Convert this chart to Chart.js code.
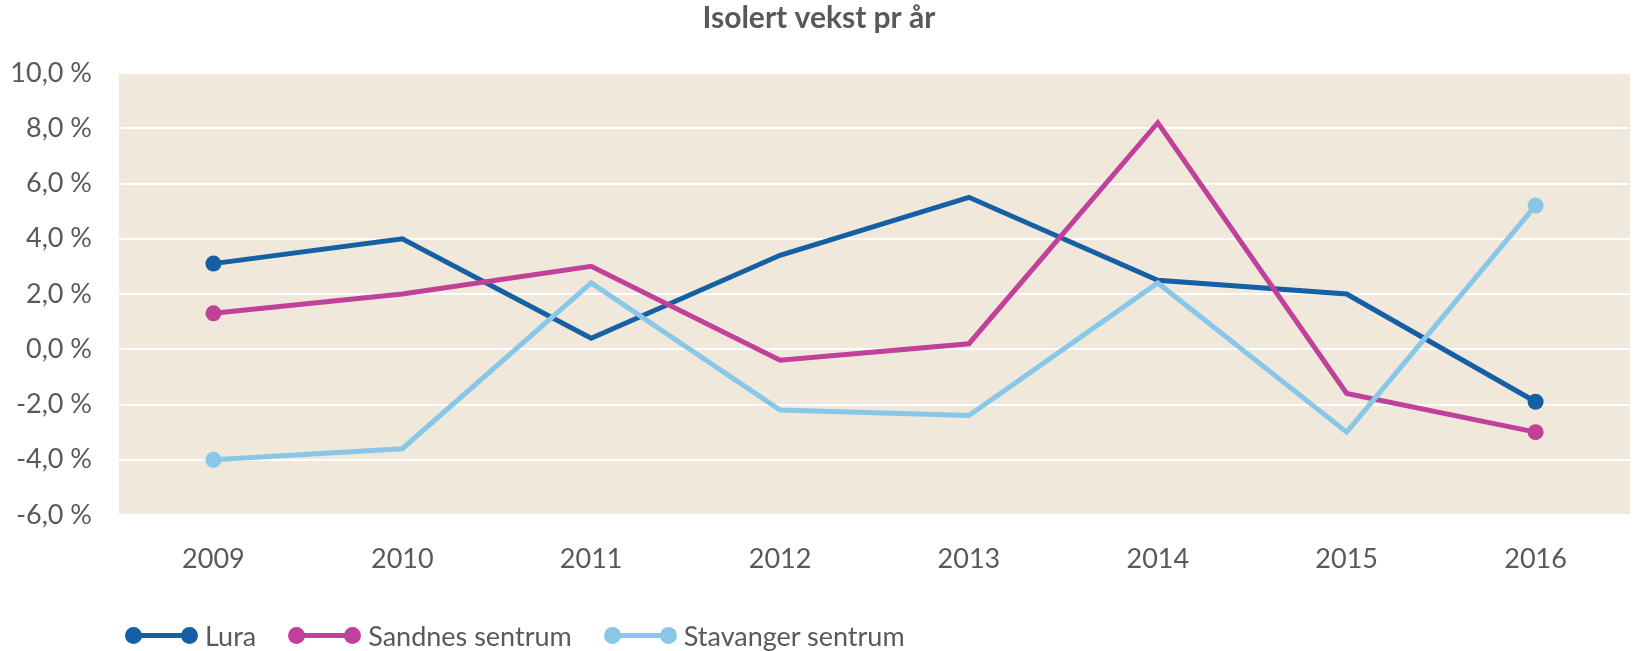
<!DOCTYPE html>
<html>
<head>
<meta charset="utf-8">
<title>Isolert vekst pr år</title>
<script src="https://cdn.jsdelivr.net/npm/chart.js@4/dist/chart.umd.min.js"></script>
<style>
    html, body { margin: 0; padding: 0; background: #FFFFFF; }
    #wrap { position: relative; width: 1638px; height: 651px; }
    #legend {
        position: absolute; left: 125px; top: 619px; height: 32px;
        display: flex; align-items: center;
        font-family: "Lato", sans-serif; font-size: 27px; color: #595959;
    }
    .item { display: flex; align-items: center; margin-right: 32px; }
    .mark { position: relative; width: 73px; height: 17px; margin-right: 7px; }
    .mark .bar { position: absolute; left: 8px; right: 8px; top: 6px; height: 5px; }
    .mark .dot { position: absolute; top: 0; width: 17px; height: 17px; border-radius: 50%; }
</style>
</head>
<body>
<div id="wrap">
    <canvas id="chart" width="1638" height="651"></canvas>
    <div id="legend"></div>
</div>
<script>
/* ==========================================================
   Isolert vekst pr år – line chart
========================================================== */

const years = ["2009", "2010", "2011", "2012", "2013", "2014", "2015", "2016"];

const lura = [3.1, 4.0, 0.4, 3.4, 5.5, 2.5, 2.0, -1.9];
const sandnes = [1.3, 2.0, 3.0, -0.4, 0.2, 8.2, -1.6, -3.0];
const stavanger = [-4.0, -3.6, 2.4, -2.2, -2.4, 2.4, -3.0, 5.2];

const seriesNames = ["Lura", "Sandnes sentrum", "Stavanger sentrum"];

const yTicks = { min: -6, max: 10, step: 2 };

const COLORS = {
    lura: "#155FA5",
    sandnes: "#C0409A",
    stavanger: "#88C7E7",
    plotBg: "#F0E8DA",
    text: "#595959"
};

// markers only on the first and last point, like the original
function endPoints(n, r) {
    return years.map((_, i) => (i === 0 || i === n - 1) ? r : 0);
}

function makeSet(label, data, color, order) {
    return {
        label: label,
        data: data,
        borderColor: color,
        backgroundColor: color,
        borderWidth: 5,
        pointRadius: endPoints(data.length, 8),
        pointHoverRadius: endPoints(data.length, 8),
        pointBorderWidth: 0,
        pointBackgroundColor: color,
        tension: 0,
        order: order
    };
}

const plotBackground = {
    id: "plotBackground",
    beforeDraw(chart) {
        const a = chart.chartArea;
        const ctx = chart.ctx;
        ctx.save();
        ctx.fillStyle = COLORS.plotBg;
        ctx.fillRect(a.left, a.top, a.right - a.left, a.bottom - a.top);
        ctx.restore();
    }
};

Chart.defaults.font.family = "'Lato', sans-serif";
Chart.defaults.color = COLORS.text;

new Chart(document.getElementById("chart").getContext("2d"), {
    type: "line",
    data: {
        labels: years,
        datasets: [
            makeSet(seriesNames[0], lura, COLORS.lura, 3),
            makeSet(seriesNames[1], sandnes, COLORS.sandnes, 2),
            makeSet(seriesNames[2], stavanger, COLORS.stavanger, 1)
        ]
    },
    options: {
        responsive: false,
        animation: false,
        layout: { padding: { left: 0, right: 0, top: 0, bottom: 50 } },
        plugins: {
            legend: { display: false },
            tooltip: { enabled: false },
            title: {
                display: true,
                text: "Isolert vekst pr år",
                color: COLORS.text,
                font: { size: 30, weight: "bold" },
                padding: { top: 0, bottom: 37 }
            }
        },
        scales: {
            x: {
                offset: true,
                grid: { display: false },
                border: { display: false },
                ticks: { font: { size: 27 }, padding: 20, color: COLORS.text },
                afterFit: (scale) => { scale.height = 86; }
            },
            y: {
                min: yTicks.min,
                max: yTicks.max,
                grid: { color: "#FFFFFF", lineWidth: 2, drawTicks: false },
                border: { display: false },
                ticks: {
                    stepSize: yTicks.step,
                    padding: 27,
                    font: { size: 27 },
                    color: COLORS.text,
                    callback: (v) => v.toFixed(1).replace(".", ",") + " %"
                },
                afterFit: (scale) => { scale.width = 119; }
            }
        }
    },
    plugins: [plotBackground]
});

// legend: line with a dot at each end, then the label
const legendColors = [COLORS.lura, COLORS.sandnes, COLORS.stavanger];
const legendEl = document.getElementById("legend");
seriesNames.forEach((name, i) => {
    const c = legendColors[i];
    const item = document.createElement("div");
    item.className = "item";
    item.innerHTML =
        '<span class="mark">' +
        '<span class="bar" style="background:' + c + '"></span>' +
        '<span class="dot" style="left:0;background:' + c + '"></span>' +
        '<span class="dot" style="right:0;background:' + c + '"></span>' +
        '</span><span>' + name + '</span>';
    legendEl.appendChild(item);
});
</script>
</body>
</html>
